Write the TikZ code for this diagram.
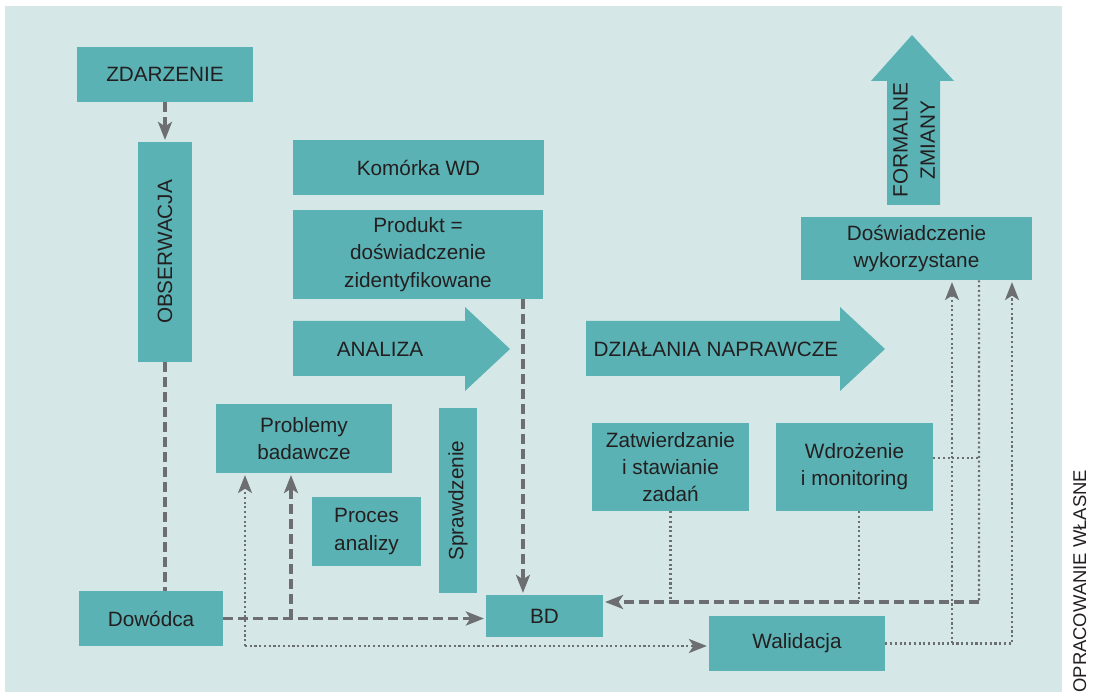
\documentclass[tikz,border=0pt]{standalone}
\usepackage{fontspec}
\setmainfont{Liberation Sans}
\usetikzlibrary{arrows.meta}

\definecolor{tlo}{HTML}{D5E8E7}
\definecolor{morski}{HTML}{5BB2B4}
\definecolor{linia}{HTML}{6D6E71}
\definecolor{tekst}{HTML}{231F20}

\tikzset{
	box/.style={fill=morski, text=tekst, align=center, inner sep=0pt, font=\fontsize{11.8}{15.5}\selectfont},
	napis/.style={text=tekst, align=center, inner sep=0pt, font=\fontsize{11.8}{15.5}\selectfont},
	dashline/.style={linia, line width=1.8pt, dash pattern=on 0.2cm off 0.1cm},
	dotline/.style={linia, line width=1.4pt, dash pattern=on 1.2pt off 1.5pt},
	tip/.style={-{Stealth[length=0.36cm, width=0.28cm, inset=0.09cm]}, shorten >=1pt}
}

\begin{document}
\begin{tikzpicture}[x=0.02cm, y=-0.02cm]
		\useasboundingbox (0,0) rectangle (1093,692);
		\fill[tlo] (5,6) rectangle (1062,692);

		% wielkie strzalki
		\fill[morski] (293,321) -- (465,321) -- (465,307) -- (510,349) -- (465,391) -- (465,376) -- (293,376) -- cycle;
		\fill[morski] (586,321) -- (840,321) -- (840,307) -- (885,349) -- (840,391) -- (840,376) -- (586,376) -- cycle;
		\fill[morski] (887,205) -- (887,81) -- (871,81) -- (912,35) -- (954,81) -- (940,81) -- (940,205) -- cycle;
		\node[napis] (analiza) at (380,349) {ANALIZA};
		\node[napis] (dzialania) at (716,349) {DZIAŁANIA NAPRAWCZE};
		\node[napis, rotate=90] (formalne) at (914,140) {FORMALNE\\ZMIANY};

		\node[box, minimum width=3.52cm, minimum height=1.1cm] (zdarzenie) at (165,74.5) {ZDARZENIE};
		\node[box, rotate=90, minimum width=4.4cm, minimum height=1.1cm] (obserwacja) at (165,252) {OBSERWACJA};
		\node[box, minimum width=5.02cm, minimum height=1.1cm] (komorka) at (418.5,167.5) {Komórka WD};
		\node[box, minimum width=5cm, minimum height=1.78cm] (produkt) at (418,254.5) {Produkt =\\doświadczenie\\zidentyfikowane};
		\node[box, minimum width=4.62cm, minimum height=1.26cm] (doswiad) at (916.5,248.5) {Doświadczenie\\wykorzystane};
		\node[box, minimum width=3.52cm, minimum height=1.38cm] (problemy) at (304,438.5) {Problemy\\badawcze};
		\node[box, minimum width=2.18cm, minimum height=1.38cm] (proces) at (366.5,531.5) {Proces\\analizy};
		\node[box, rotate=90, minimum width=3.7cm, minimum height=0.76cm] (sprawdzenie) at (458,500.5) {Sprawdzenie};
		\node[box, minimum width=2.34cm, minimum height=0.84cm] (bd) at (544.5,616) {BD};
		\node[box, minimum width=2.88cm, minimum height=1.1cm] (dowodca) at (151,618.5) {Dowódca};
		\node[box, minimum width=3.14cm, minimum height=1.76cm] (zatwierdzanie) at (670.5,467) {Zatwierdzanie\\i stawianie\\zadań};
		\node[box, minimum width=3.14cm, minimum height=1.76cm] (wdrozenie) at (854.5,467) {Wdrożenie\\i monitoring};
		\node[box, minimum width=3.52cm, minimum height=1.1cm] (walidacja) at (797,643.5) {Walidacja};

		\node[napis, rotate=90, anchor=north west, font=\fontsize{10.5}{10.5}\selectfont] (zrodlo) at (1073,693) {OPRACOWANIE WŁASNE};

		% lewa strona
		\draw[dashline, tip] (zdarzenie) -- (obserwacja);
		\draw[dashline] (obserwacja) -- (obserwacja |- dowodca.north);
		\draw[dashline, tip] (dowodca.east) -- (dowodca.east -| bd.west);
		\coordinate (rozg) at (291,618.5);
		\draw[dashline, tip] (rozg) -- (rozg |- problemy.south);
		\coordinate (kropa) at (245,646);
		\draw[dotline, tip] (kropa) -- (kropa |- problemy.south);
		\draw[dotline, tip] (kropa) -- (kropa -| walidacja.west);
		\draw[dashline, tip] ([xshift=2.1cm]produkt.south) -- ([xshift=2.1cm]produkt.south |- bd.north);

		% prawa strona
		\coordinate (prawy) at (979,602);
		\draw[dotline] ([xshift=1.25cm]doswiad.south) -- (prawy);
		\draw[dashline, tip] (prawy) -- (prawy -| bd.east);
		\draw[dotline] (zatwierdzanie.south) -- (zatwierdzanie.south |- prawy);
		\draw[dotline] ([xshift=0.09cm]wdrozenie.south) -- ([xshift=0.09cm]wdrozenie.south |- prawy);
		\draw[dotline] ([yshift=0.18cm]wdrozenie.east) -- ([yshift=0.18cm]wdrozenie.east -| prawy);
		\coordinate (w1) at (952,644);
		\coordinate (w2) at (1012,644);
		\draw[dotline, tip] (walidacja.east) -- (w2 |- walidacja.east) -- (w2 |- doswiad.south);
		\draw[dotline, tip] (w1 |- walidacja.east) -- (w1 |- doswiad.south);
	\end{tikzpicture}
\end{document}
